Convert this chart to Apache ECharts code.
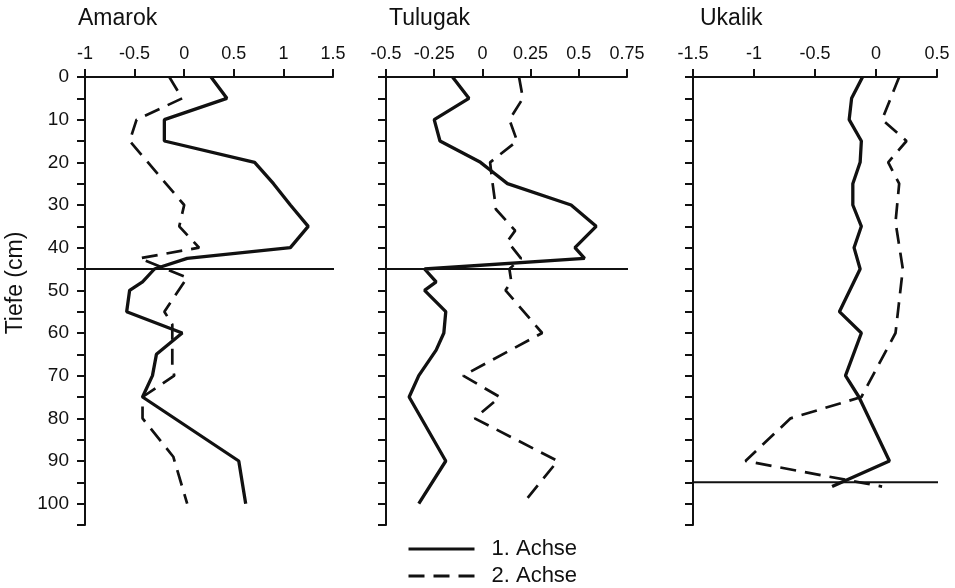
<!DOCTYPE html>
<html>
<head>
<meta charset="utf-8">
<script src="https://cdn.jsdelivr.net/npm/echarts@6/dist/echarts.min.js"></script>
<style>
  html, body { margin: 0; padding: 0; background: #fff; }
  #chart { width: 955px; height: 588px; }
</style>
</head>
<body>
<div id="chart"></div>
<script>
// panel setup
const panelNames = ['Amarok', 'Tulugak', 'Ukalik'];
const xMin = [-1, -0.5, -1.5];
const xMax = [1.5, 0.75, 0.5];
const xStep = [0.5, 0.25, 0.5];
const boundaryDepth = [45, 45, 95];
const seriesNames = ['1. Achse', '2. Achse'];

// Amarok
const amarokDepth1 = [0, 5, 10, 15, 20, 25, 30, 35, 40, 42.5, 45, 48, 50, 55, 60, 65, 70, 75, 90, 100];
const amarokAxis1  = [0.27, 0.43, -0.2, -0.2, 0.71, 0.9, 1.07, 1.25, 1.07, 0.03, -0.3, -0.42, -0.55, -0.58, -0.02, -0.28, -0.32, -0.42, 0.55, 0.62];
const amarokDepth2 = [0, 5, 10, 15, 30, 35, 40, 42.5, 47, 55, 58, 68, 70, 75, 80, 89, 100];
const amarokAxis2  = [-0.15, -0.02, -0.48, -0.55, 0, -0.05, 0.15, -0.45, 0.03, -0.2, -0.12, -0.12, -0.1, -0.42, -0.42, -0.11, 0.03];

// Tulugak
const tulugakDepth1 = [0, 5, 10, 15, 20, 22.5, 25, 30, 35, 40, 42.5, 45, 48, 50, 55, 60, 64, 70, 75, 90, 100];
const tulugakAxis1  = [-0.155, -0.07, -0.25, -0.22, -0.01, 0.06, 0.13, 0.46, 0.59, 0.48, 0.53, -0.3, -0.24, -0.3, -0.19, -0.2, -0.24, -0.33, -0.38, -0.19, -0.33];
const tulugakDepth2 = [0, 5, 10, 15, 20, 24, 29, 31, 36, 38.5, 42.5, 45, 48, 50, 60, 70, 75, 80, 90, 100];
const tulugakAxis2  = [0.19, 0.21, 0.14, 0.18, 0.04, 0.05, 0.065, 0.07, 0.17, 0.13, 0.2, 0.14, 0.15, 0.12, 0.31, -0.1, 0.09, -0.04, 0.39, 0.21];

// Ukalik
const ukalikDepth1 = [0, 5, 10, 15, 20, 25, 30, 35, 40, 45, 55, 60, 70, 75, 90, 96];
const ukalikAxis1  = [-0.11, -0.2, -0.22, -0.12, -0.13, -0.19, -0.19, -0.12, -0.18, -0.13, -0.3, -0.12, -0.25, -0.14, 0.11, -0.36];
const ukalikDepth2 = [0, 10, 15, 20, 25, 34, 45, 55, 60, 75, 80, 90, 96];
const ukalikAxis2  = [0.19, 0.05, 0.25, 0.1, 0.19, 0.16, 0.22, 0.18, 0.16, -0.12, -0.7, -1.07, 0.05];

const depthTicks = { min: 0, max: 105, step: 5, labelStep: 10 };

const panels = [
  [[amarokAxis1, amarokDepth1], [amarokAxis2, amarokDepth2]],
  [[tulugakAxis1, tulugakDepth1], [tulugakAxis2, tulugakDepth2]],
  [[ukalikAxis1, ukalikDepth1], [ukalikAxis2, ukalikDepth2]]
];

const FONT = '"Liberation Sans", Arial, Helvetica, sans-serif';
const INK = '#111';

const gridBoxes = [
  { left: 85, top: 77, width: 248, height: 448 },
  { left: 386, top: 77, width: 241, height: 448 },
  { left: 693, top: 77, width: 244, height: 448 }
];
const titleLeft = [78, 389, 700];
const lineOverPx = [5, 10, 10];

function pairs(xs, ys) {
  return xs.map((v, i) => [v, ys[i]]);
}

const grid = [], xAxis = [], yAxis = [], series = [], title = [];

panels.forEach((p, i) => {
  grid.push(gridBoxes[i]);
  title.push({
    text: panelNames[i], left: titleLeft[i], top: 7, padding: 0,
    textStyle: { fontFamily: FONT, fontSize: 23, fontWeight: 'normal', color: INK }
  });
  xAxis.push({
    gridIndex: i, type: 'value', position: 'top',
    min: xMin[i], max: xMax[i], interval: xStep[i],
    axisLine: { show: true, onZero: false, lineStyle: { color: INK, width: 2 } },
    axisTick: { show: true, length: 8, lineStyle: { color: INK, width: 2 } },
    axisLabel: { fontFamily: FONT, fontSize: 18, color: INK, margin: 14 },
    splitLine: { show: false }
  });
  yAxis.push({
    gridIndex: i, type: 'value', inverse: true,
    min: depthTicks.min, max: depthTicks.max, interval: depthTicks.step,
    axisLine: { show: true, onZero: false, lineStyle: { color: INK, width: 2 } },
    axisTick: { show: true, length: 8, lineStyle: { color: INK, width: 2 } },
    axisLabel: {
      show: i === 0, fontFamily: FONT, fontSize: 19, color: INK, margin: 16,
      formatter: v => (v % depthTicks.labelStep === 0 ? String(v) : '')
    },
    splitLine: { show: false }
  });
  p.forEach((s, k) => {
    series.push({
      name: seriesNames[k], type: 'line', xAxisIndex: i, yAxisIndex: i,
      data: pairs(s[0], s[1]), symbol: 'none', silent: true,
      lineStyle: k === 0
        ? { color: INK, width: 3.3, type: 'solid' }
        : { color: INK, width: 2.7, type: [16, 9] },
      itemStyle: { color: INK }
    });
  });
  // boundary line, running a little past the end of the axis
  const over = lineOverPx[i] * (xMax[i] - xMin[i]) / gridBoxes[i].width;
  series.push({
    name: 'boundary', type: 'line', xAxisIndex: i, yAxisIndex: i,
    data: [[xMin[i], boundaryDepth[i]], [xMax[i] + over, boundaryDepth[i]]],
    symbol: 'none', silent: true, clip: false,
    lineStyle: { color: INK, width: 2 }
  });
});

function legendRow(name, top) {
  return {
    data: [name], orient: 'vertical', left: 407, top: top, padding: 0,
    itemWidth: 66, itemHeight: 12, selectedMode: false,
    itemStyle: { opacity: 0 },
    lineStyle: { width: 3 },
    textStyle: { fontFamily: FONT, fontSize: 22, color: INK, padding: [0, 0, 0, 12] }
  };
}

const chart = echarts.init(document.getElementById('chart'));
chart.setOption({
  animation: false,
  backgroundColor: '#fff',
  title: title,
  grid: grid,
  xAxis: xAxis,
  yAxis: yAxis,
  series: series,
  legend: [legendRow(seriesNames[0], 538), legendRow(seriesNames[1], 565)],
  graphic: [{
    type: 'text', x: 16, y: 283, rotation: Math.PI / 2,
    style: {
      text: 'Tiefe (cm)', fontFamily: FONT, fontSize: 23, fill: INK,
      textAlign: 'center', textVerticalAlign: 'middle'
    }
  }]
});
</script>
</body>
</html>
